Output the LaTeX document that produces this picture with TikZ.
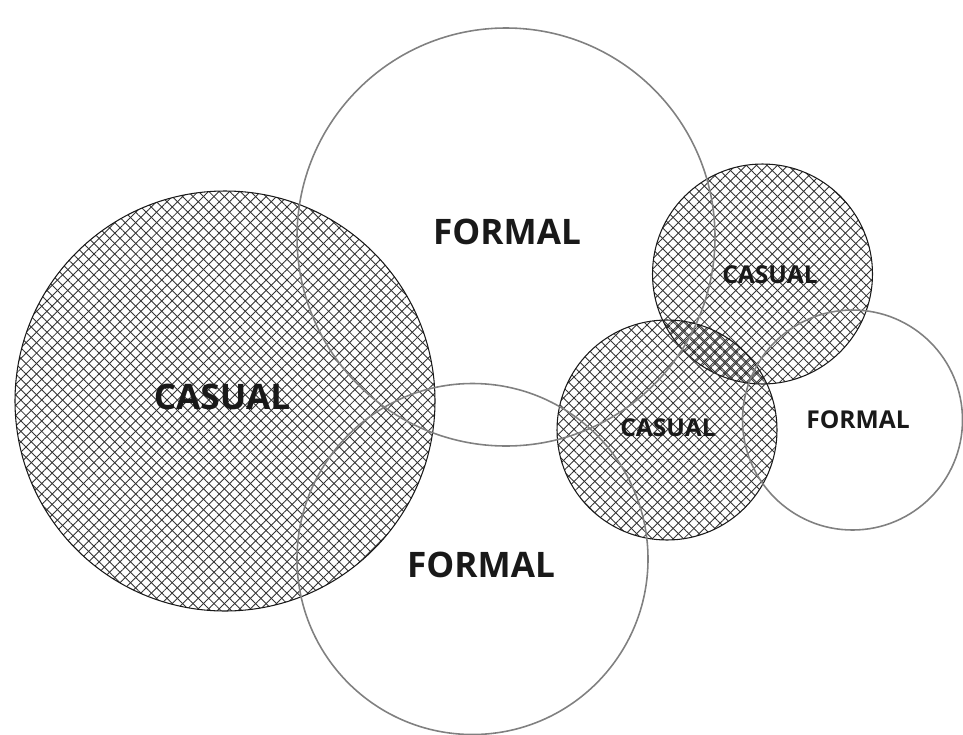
\documentclass[tikz,border=0pt]{standalone}
\usepackage{fontspec}
\setmainfont{Open Sans}
\usetikzlibrary{patterns.meta}
\newcommand{\hatchcol}{black!80}
\newcommand{\ringcol}{black!50}

\tikzset{
  casual/.style={draw=black!90, line width=0.6pt},
  formal/.style={draw=\ringcol, line width=0.9pt},
  biglabel/.style={font=\fontsize{20}{20}\selectfont\bfseries, text=black!90},
  smalllabel/.style={font=\fontsize{14}{14}\selectfont\bfseries, text=black!90}
}

\begin{document}
\begin{tikzpicture}[x=0.02cm,y=-0.02cm]
\useasboundingbox (0,0) rectangle (963,734);

% casual circles (crosshatched)
\foreach \cx/\cy/\r/\sh in {225/401/210/0, 762.5/274/110/0, 667/430/110/1.2}{
  \fill[pattern={Lines[angle=45,distance=4.2pt,line width=0.5pt,yshift=\sh pt]},
        pattern color=\hatchcol] (\cx,\cy) circle (\r);
  \fill[pattern={Lines[angle=-45,distance=4.2pt,line width=0.5pt,yshift=\sh pt]},
        pattern color=\hatchcol] (\cx,\cy) circle (\r);
  \draw[casual] (\cx,\cy) circle (\r);
}

% formal circles
\draw[formal] (506,237) circle (209);
\draw[formal] (472.5,559) circle (175.5);
\draw[formal] (852.5,420) circle (110);

% labels
\node[biglabel] (casualL) at (222,397) {CASUAL};
\node[biglabel] (formalT) at (507,232) {FORMAL};
\node[biglabel] (formalB) at (481,565) {FORMAL};
\node[smalllabel] (casualTR) at (770,275) {CASUAL};
\node[smalllabel] (casualM) at (668,428) {CASUAL};
\node[smalllabel] (formalR) at (858,420) {FORMAL};

\end{tikzpicture}
\end{document}
